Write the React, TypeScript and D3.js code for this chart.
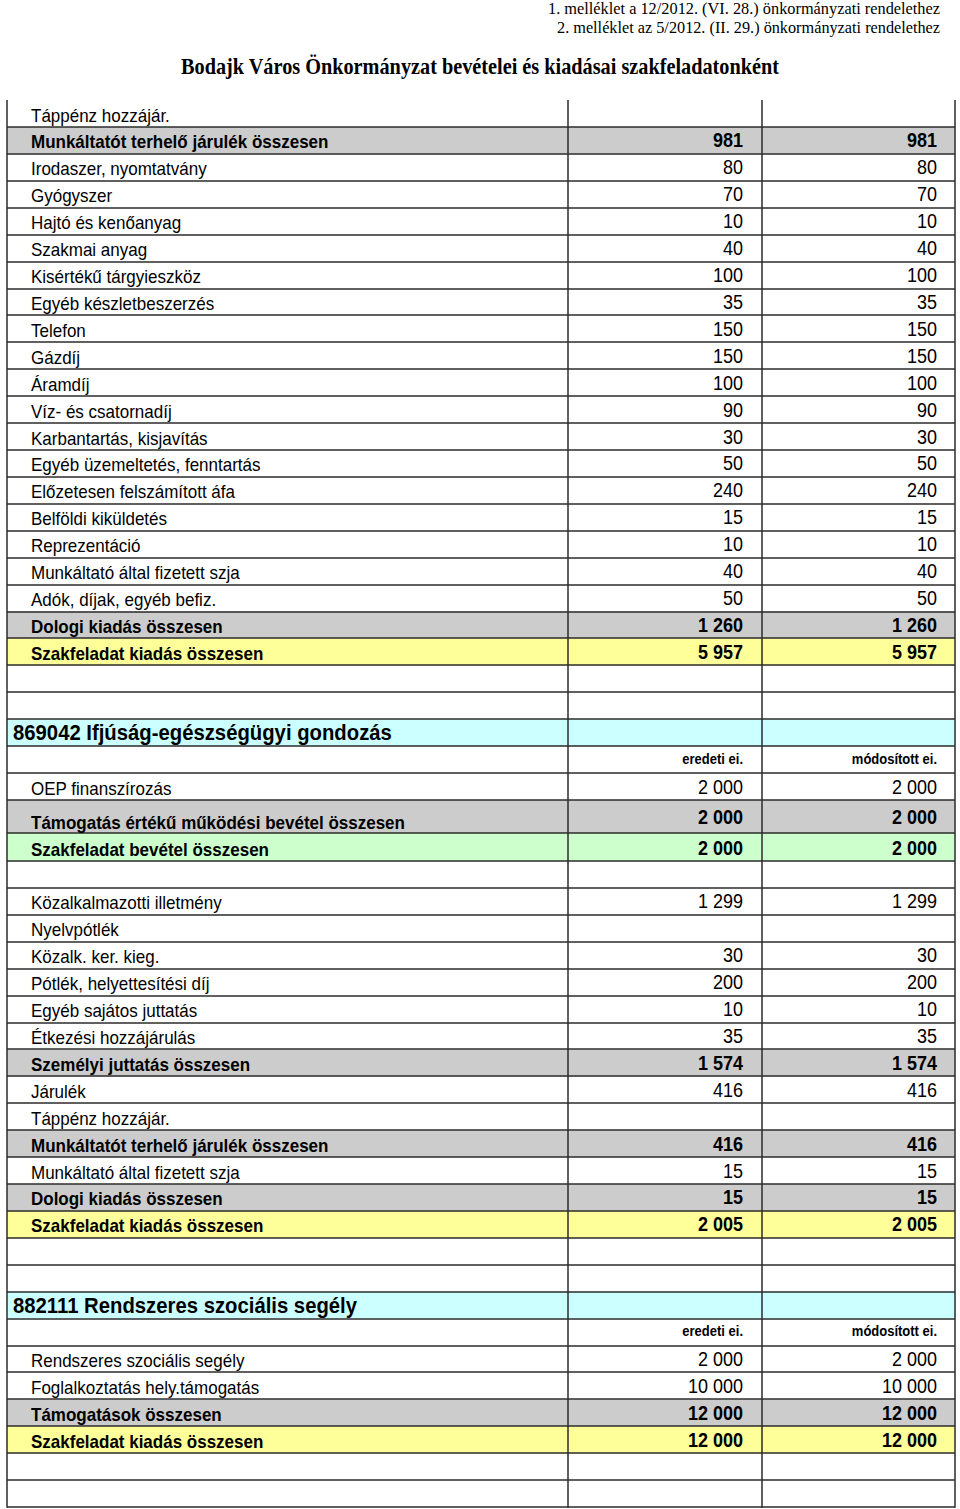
import React from 'react';
import * as d3 from 'd3';

// ---------- DATA ----------
const headerLines = [
  '1. melléklet a  12/2012. (VI. 28.) önkormányzati rendelethez',
  '2. melléklet az 5/2012. (II. 29.) önkormányzati rendelethez',
];
const title = 'Bodajk Város Önkormányzat bevételei és kiadásai szakfeladatonként';
const colHeads = ['eredeti ei.', 'módosított ei.'];

const labels = [
  'Táppénz hozzájár.',
  'Munkáltatót terhelő járulék összesen',
  'Irodaszer, nyomtatvány',
  'Gyógyszer',
  'Hajtó és kenőanyag',
  'Szakmai anyag',
  'Kisértékű tárgyieszköz',
  'Egyéb készletbeszerzés',
  'Telefon',
  'Gázdíj',
  'Áramdíj',
  'Víz- és csatornadíj',
  'Karbantartás, kisjavítás',
  'Egyéb üzemeltetés, fenntartás',
  'Előzetesen felszámított áfa',
  'Belföldi kiküldetés',
  'Reprezentáció',
  'Munkáltató által fizetett szja',
  'Adók, díjak, egyéb befiz.',
  'Dologi kiadás összesen',
  'Szakfeladat kiadás összesen',
  '',
  '',
  '869042 Ifjúság-egészségügyi gondozás',
  '',
  'OEP finanszírozás',
  'Támogatás értékű működési bevétel összesen',
  'Szakfeladat bevétel összesen',
  '',
  'Közalkalmazotti illetmény',
  'Nyelvpótlék',
  'Közalk. ker. kieg.',
  'Pótlék, helyettesítési díj',
  'Egyéb sajátos juttatás',
  'Étkezési hozzájárulás',
  'Személyi juttatás összesen',
  'Járulék',
  'Táppénz hozzájár.',
  'Munkáltatót terhelő járulék összesen',
  'Munkáltató által fizetett szja',
  'Dologi kiadás összesen',
  'Szakfeladat kiadás összesen',
  '',
  '',
  '882111 Rendszeres szociális segély',
  '',
  'Rendszeres szociális segély',
  'Foglalkoztatás hely.támogatás',
  'Támogatások összesen',
  'Szakfeladat kiadás összesen',
  '',
  '',
];

const eredeti: (number | null)[] = [
  null, 981, 80, 70, 10, 40, 100, 35, 150, 150, 100, 90, 30, 50, 240, 15, 10, 40, 50, 1260, 5957,
  null, null, null, null, 2000, 2000, 2000, null,
  1299, null, 30, 200, 10, 35, 1574, 416, null, 416, 15, 15, 2005,
  null, null, null, null, 2000, 10000, 12000, 12000, null, null,
];

const modositott: (number | null)[] = [
  null, 981, 80, 70, 10, 40, 100, 35, 150, 150, 100, 90, 30, 50, 240, 15, 10, 40, 50, 1260, 5957,
  null, null, null, null, 2000, 2000, 2000, null,
  1299, null, 30, 200, 10, 35, 1574, 416, null, 416, 15, 15, 2005,
  null, null, null, null, 2000, 10000, 12000, 12000, null, null,
];

// row category: plain, sum (grey), total (yellow), income (green), section (blue), colhead, empty
const rowTypes = [
  'plain', 'sum', 'plain', 'plain', 'plain', 'plain', 'plain', 'plain', 'plain', 'plain',
  'plain', 'plain', 'plain', 'plain', 'plain', 'plain', 'plain', 'plain', 'plain', 'sum', 'total',
  'empty', 'empty', 'section', 'colhead', 'plain', 'sum', 'income', 'empty',
  'plain', 'plain', 'plain', 'plain', 'plain', 'plain', 'sum', 'plain', 'plain', 'sum', 'plain', 'sum', 'total',
  'empty', 'empty', 'section', 'colhead', 'plain', 'plain', 'sum', 'total', 'empty', 'empty',
];

// ---------- LAYOUT ----------
const W = 960;
const H = 1509;
const TABLE_TOP = 100;
const ROW_H = 26.92;
const heightOverride: Record<number, number> = { 0: 27, 26: 33, 27: 28 };
const colEdges = [7, 568, 762, 955];
const fills: Record<string, string> = {
  sum: '#cccccc',
  total: '#ffff99',
  income: '#ccffcc',
  section: '#ccffff',
};
const SANS = "'Liberation Sans', Arial, Helvetica, sans-serif";
const SERIF = "'Liberation Serif', 'Times New Roman', serif";
const STRETCH = 1.1;

const locale = d3.formatLocale({ decimal: ',', thousands: ' ', grouping: [3], currency: ['', ''] });
const fmt = locale.format(',d');

function SText(props: {
  x: number; y: number; sy?: number; anchor?: string; size: number; bold?: boolean;
  family?: string; len?: number; children: React.ReactNode;
}) {
  const { x, y, sy = STRETCH, anchor = 'start', size, bold, family = SANS, len } = props;
  return (
    <text
      transform={`translate(${x},${y}) scale(1,${sy})`}
      textAnchor={anchor as any}
      fontFamily={family}
      fontSize={size}
      fontWeight={bold ? 'bold' : 'normal'}
      fill="#000"
      {...(len ? { textLength: len, lengthAdjust: 'spacingAndGlyphs' } : {})}
    >
      {props.children}
    </text>
  );
}

export default function App() {
  const heights = labels.map((_, i) => heightOverride[i] ?? ROW_H);
  const cum = Array.from(d3.cumsum(heights));
  const y = d3.scaleLinear().domain([0, 1]).range([TABLE_TOP, TABLE_TOP + 1]);
  const tops = [0, ...cum].map((c) => y(c));
  const tableBottom = tops[tops.length - 1];

  const valueRight = [colEdges[2] - 19, colEdges[3] - 18];
  const lineColor = '#2b2b2b';

  return (
    <svg
      width={W}
      height={H}
      viewBox={`0 0 ${W} ${H}`}
      style={{ position: 'absolute', left: 0, top: 0, display: 'block', background: '#fff' }}
    >
      <rect x={0} y={0} width={W} height={H} fill="#fff" />
      {/* page header */}
      <SText x={940} y={14} anchor="end" family={SERIF} size={15.5} sy={1.05} len={392}>{headerLines[0]}</SText>
      <SText x={940} y={32.5} anchor="end" family={SERIF} size={15.5} sy={1.05} len={383}>{headerLines[1]}</SText>
      <SText x={181} y={74} family={SERIF} size={21} bold sy={1.12} len={598}>{title}</SText>

      {/* fills */}
      {labels.map((_, i) => {
        const f = fills[rowTypes[i]];
        if (!f) return null;
        return (
          <rect key={`f${i}`} x={colEdges[0]} y={tops[i]} width={colEdges[3] - colEdges[0]}
            height={tops[i + 1] - tops[i]} fill={f} />
        );
      })}

      {/* horizontal lines */}
      {tops.slice(1).map((t, i) => (
        <line key={`h${i}`} x1={colEdges[0]} x2={colEdges[3]} y1={Math.round(t)} y2={Math.round(t)}
          stroke={lineColor} strokeWidth={1.5} />
      ))}
      {/* vertical lines */}
      {colEdges.map((x, i) => (
        <line key={`v${i}`} x1={x} x2={x} y1={TABLE_TOP} y2={Math.round(tableBottom) + 0.75}
          stroke={lineColor} strokeWidth={1.5} />
      ))}

      {/* texts */}
      {labels.map((lab, i) => {
        const type = rowTypes[i];
        const bottom = tops[i + 1];
        const bold = type === 'sum' || type === 'total' || type === 'income';
        const tall = (heightOverride[i] ?? 0) > 30;
        const out: React.ReactNode[] = [];
        if (type === 'section') {
          out.push(
            <SText key={`l${i}`} x={13} y={bottom - 6} size={20.3} bold>{lab}</SText>
          );
        } else if (type === 'colhead') {
          colHeads.forEach((c, j) => {
            out.push(
              <SText key={`c${i}-${j}`} x={valueRight[j]} y={bottom - 9.5} anchor="end" size={13} bold>{c}</SText>
            );
          });
        } else if (lab) {
          out.push(
            <SText key={`l${i}`} x={31} y={bottom - (tall ? 4.5 : 5.5)} size={17} bold={bold}>{lab}</SText>
          );
        }
        [eredeti[i], modositott[i]].forEach((v, j) => {
          if (v == null) return;
          out.push(
            <SText key={`v${i}-${j}`} x={valueRight[j]} y={bottom - (tall ? 9 : 6.5)} anchor="end"
              size={18} bold={bold}>{fmt(v)}</SText>
          );
        });
        return <g key={`t${i}`}>{out}</g>;
      })}
    </svg>
  );
}
